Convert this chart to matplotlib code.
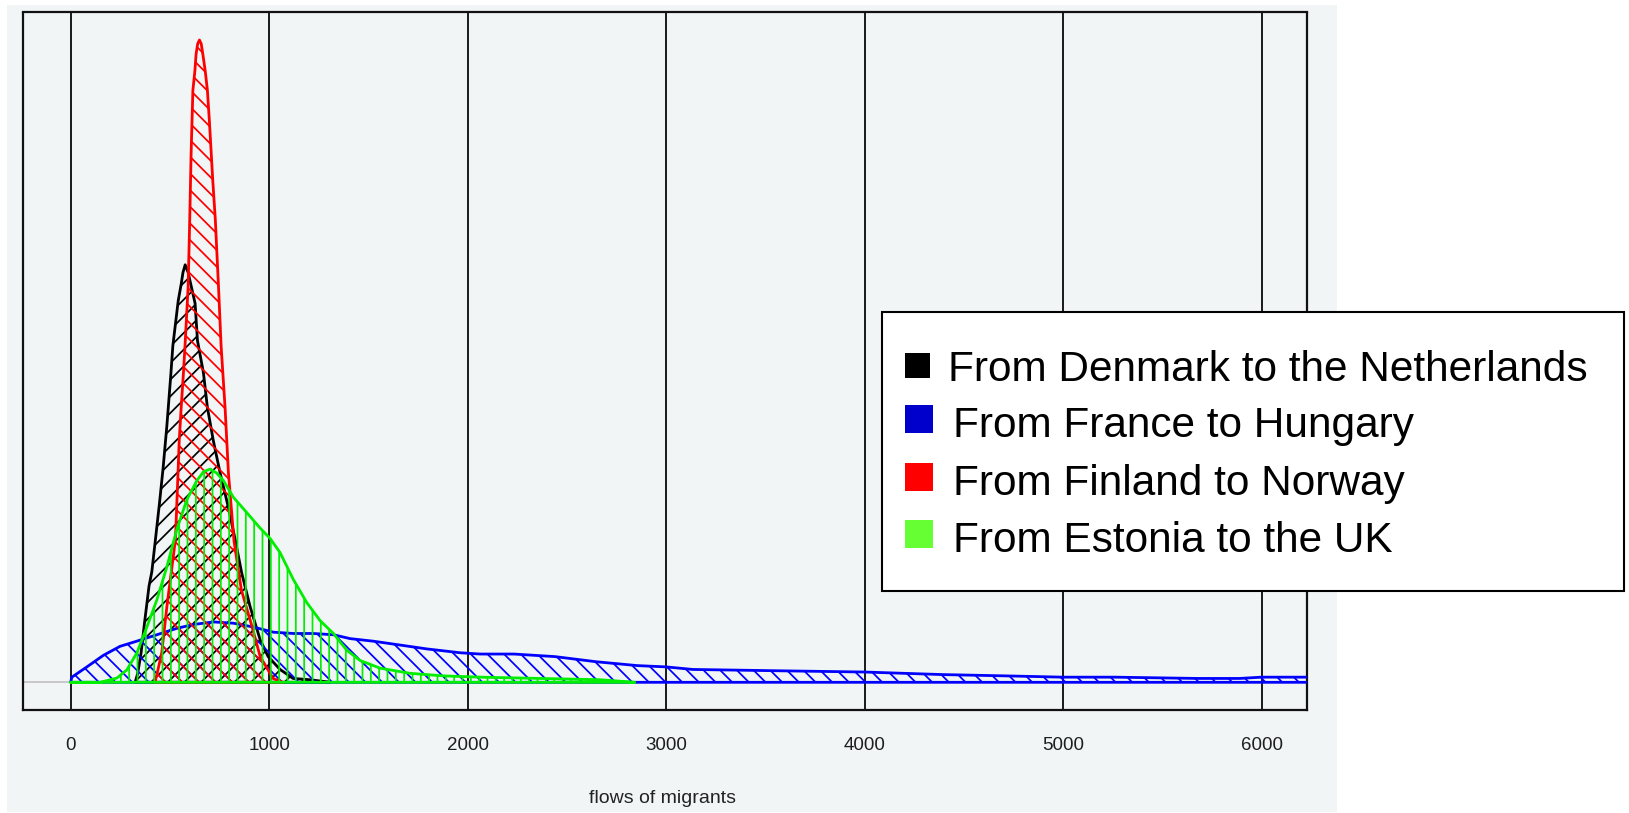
import matplotlib
matplotlib.use("Agg")
import matplotlib.pyplot as plt
from matplotlib.patches import Rectangle

# ---------------- data ----------------
series_names = ["From Denmark to the Netherlands", "From France to Hungary",
                "From Finland to Norway", "From Estonia to the UK"]

black_x = [325, 338, 355, 372, 395, 409, 430, 448, 466, 485, 505, 515, 542, 557, 566, 577,
           592, 627, 639, 669, 689, 719, 753, 795, 829, 862, 904, 955, 995, 1055, 1121, 1206, 1307]
black_y = [0, 0.00007, 0.00023, 0.00046, 0.00075, 0.00086, 0.00115, 0.00140, 0.00167, 0.00200,
           0.00240, 0.00262, 0.00297, 0.00310, 0.00319, 0.00325,
           0.00319, 0.00295, 0.00266, 0.00241, 0.00214, 0.00188, 0.00163, 0.00136, 0.00111,
           0.00085, 0.00059, 0.00033, 0.00020, 0.00010, 0.00003, 0.00002, 0]

blue_x = [0, 6, 82, 165, 249, 333, 434, 535, 619, 719, 820, 921, 1022, 1122, 1223, 1325, 1408,
          1525, 1660, 1794, 1962, 2063, 2233, 2440, 2648, 2855, 3000, 3134, 3555, 4000, 4395,
          4710, 5000, 5260, 5680, 5890, 6000, 6227, 6300]
blue_y = [0, 0.00004, 0.00012, 0.00021, 0.00028, 0.00032, 0.00037, 0.00042, 0.00045, 0.00047,
          0.00046, 0.00043, 0.00039, 0.00038, 0.00038, 0.00037, 0.00034, 0.00032, 0.00029,
          0.00026, 0.00023, 0.00022, 0.00022, 0.00020, 0.00016, 0.00013, 0.00012, 0.00010,
          0.00009, 0.00008, 0.00006, 0.00005, 0.00004, 0.00004, 0.00003, 0.00003, 0.00004,
          0.00004, 0]

red_x = [425, 436, 459, 485, 528, 541, 547, 557, 568, 577, 592, 600, 607, 616, 626, 632, 640,
         649, 658, 666, 678, 689, 699, 716, 729, 745, 758, 778, 795, 823, 860, 909, 955, 1020, 1070]
red_y = [0, 0.00007, 0.00023, 0.00059, 0.00111, 0.00163, 0.00188, 0.00214, 0.00240, 0.00264,
         0.00308, 0.00360, 0.00412, 0.00461, 0.00476, 0.00489, 0.00497, 0.00500, 0.00497,
         0.00489, 0.00476, 0.00461, 0.00437, 0.00391, 0.00360, 0.00308, 0.00262, 0.00214,
         0.00163, 0.00110, 0.00072, 0.00046, 0.00020, 0.00003, 0]

green_x = [0, 149, 233, 283, 334, 384, 434, 485, 535, 585, 636, 670, 703, 735, 770, 820, 888,
           955, 1005, 1055, 1122, 1190, 1257, 1324, 1391, 1458, 1559, 1710, 1878, 2063, 2365,
           2668, 2842]
green_y = [0, 0, 0.000033, 0.000096, 0.00023, 0.00043, 0.00064, 0.00090, 0.00119, 0.00142,
           0.00157, 0.00164, 0.00166, 0.00163, 0.00157, 0.00144, 0.00132, 0.00120, 0.00112,
           0.00101, 0.00080, 0.00062, 0.00048, 0.00038, 0.00025, 0.00017, 0.00011, 0.00007,
           0.00005, 0.00004, 0.00003, 0.00002, 0]

x_ticks = [0, 1000, 2000, 3000, 4000, 5000, 6000]
x_tick_labels = ["0", "1000", "2000", "3000", "4000", "5000", "6000"]
x_label = "flows of migrants"

# ---------------- style ----------------
line_colors = ["#000000", "#0000ff", "#ff0000", "#00ee00"]
legend_colors = ["#000000", "#0000cc", "#ff0000", "#66ff33"]
hatches = ["//", "\\\\", "\\\\", "||"]
bg = "#f1f5f6"

plt.rcParams['font.family'] = ['Liberation Sans', 'DejaVu Sans']
plt.rcParams['hatch.linewidth'] = 1.25

W, H = 1629, 813
def fx(px):
    return px / W
def fy(py):
    return 1 - py / H

fig = plt.figure(figsize=(W / 100, H / 100), dpi=100)
fig.patch.set_facecolor("white")
fig.add_artist(Rectangle((fx(7), fy(812)), fx(1337) - fx(7), fy(5) - fy(812),
                         transform=fig.transFigure, facecolor=bg, edgecolor="none", zorder=-5))

ax = fig.add_axes([fx(23), fy(709.6), fx(1306.6) - fx(23), fy(12.5) - fy(709.6)])
ax.set_facecolor(bg)
P = 0.005
ax.set_xlim(-240, 6227)
ax.set_ylim(-0.0425 * P, 1.0428 * P)

ax.set_xticks(x_ticks)
ax.set_xticklabels(x_tick_labels)
ax.set_yticks([])
ax.tick_params(axis='x', length=0, pad=20, labelsize=13.5, labelcolor="#1e1e1e")
ax.grid(axis='x', color="#1a1a1a", lw=1.4)
ax.set_axisbelow(True)
for s in ax.spines.values():
    s.set_color("#111111")
    s.set_linewidth(1.6)

ax.axhline(0, color="#c4c4c4", lw=1.3, zorder=1.5)

data = [(black_x, black_y), (blue_x, blue_y), (red_x, red_y), (green_x, green_y)]
for i, ((xs, ys), c, h) in enumerate(zip(data, line_colors, hatches)):
    ax.fill_between(xs, 0, ys, facecolor="none", edgecolor=c, hatch=h, lw=2.0, zorder=2 + i)

ax.set_xlabel(x_label, fontsize=14, color="#222222")
ax.xaxis.set_label_coords(0.4979, -0.1275)
ax.xaxis.label.set_va("center")

# ---------------- legend (drawn manually to match placement) ----------------
fig.add_artist(Rectangle((fx(882), fy(591)), fx(1624) - fx(882), fy(312) - fy(591),
                         transform=fig.transFigure, facecolor="white", edgecolor="black",
                         lw=1.5, zorder=10))
sq = [(905, 353, 25), (905, 405, 28), (905, 463, 28), (905, 520, 28)]
text_x = [948, 953, 953, 953]
baselines = [381, 437, 495, 552]
for name, c, (sx, sy, ss), tx, bl in zip(series_names, legend_colors, sq, text_x, baselines):
    fig.add_artist(Rectangle((fx(sx), fy(sy + ss)), fx(sx + ss) - fx(sx), fy(sy) - fy(sy + ss),
                             transform=fig.transFigure, facecolor=c, edgecolor="none", zorder=11))
    fig.text(fx(tx), fy(bl), name, fontsize=30.5, va="baseline", ha="left", color="black",
             zorder=12)

fig.savefig("out.png", dpi=100, facecolor="white")
